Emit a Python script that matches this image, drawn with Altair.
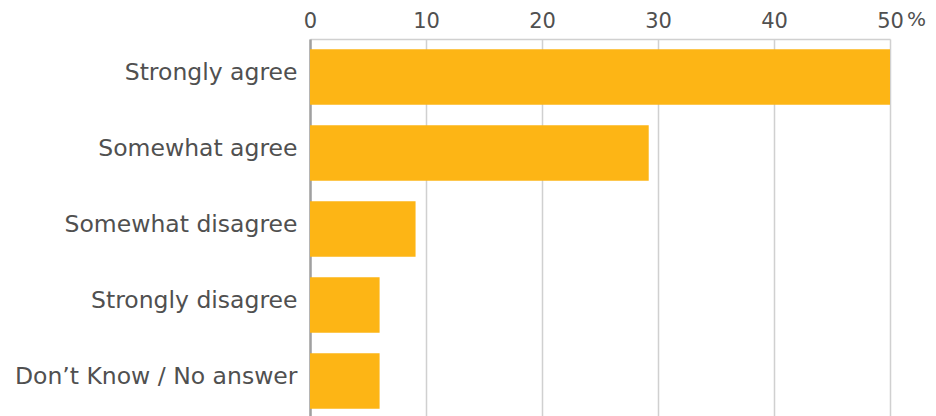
import altair as alt
import pandas as pd

categories = ["Strongly agree", "Somewhat agree", "Somewhat disagree",
              "Strongly disagree", "Don\u2019t Know / No answer"]
values = [50, 29.2, 9.1, 6, 6]
tick_values = [0, 10, 20, 30, 40, 50]
unit_label = ["%"]

FONT = "DejaVu Sans"
TEXT_COLOR = "#505050"
BAR_COLOR = "#FDB515"

df = pd.DataFrame({"category": categories, "value": values})
unit_df = pd.DataFrame({"value": [tick_values[-1]], "label": unit_label})

x_scale = alt.Scale(domain=[0, 50], nice=False)

bars = alt.Chart(df).mark_bar(color=BAR_COLOR).encode(
    x=alt.X("value:Q", scale=x_scale,
            axis=alt.Axis(orient="top", values=tick_values, title=None,
                          grid=True, gridColor="#d0d0d0", gridWidth=1.5,
                          domainColor="#d0d0d0", domainWidth=1.5,
                          ticks=False, labelPadding=8, labelFlush=False,
                          labelFont=FONT, labelFontSize=21,
                          labelColor=TEXT_COLOR)),
    y=alt.Y("category:N", sort=categories,
            scale=alt.Scale(paddingInner=0.27, paddingOuter=0.135),
            axis=alt.Axis(title=None, ticks=False, labelPadding=13,
                          labelOffset=-4,
                          domainColor="#a0a0a0", domainWidth=2.5,
                          labelFont=FONT, labelFontSize=23.5,
                          labelColor=TEXT_COLOR, labelLimit=400)),
)

unit = alt.Chart(unit_df).mark_text(
    align="left", baseline="middle", dx=17, font=FONT, fontSize=20,
    color=TEXT_COLOR
).encode(
    x=alt.X("value:Q", scale=x_scale),
    y=alt.value(-19),
    text="label:N",
)

chart = alt.layer(bars, unit).properties(
    width=580, height=380,
    autosize=alt.AutoSizeParams(type="none"),
    padding={"left": 302, "top": 31, "right": 38, "bottom": 0},
).configure_view(stroke=None)

chart.save("out.html", embed_options={"renderer": "svg", "actions": False})
